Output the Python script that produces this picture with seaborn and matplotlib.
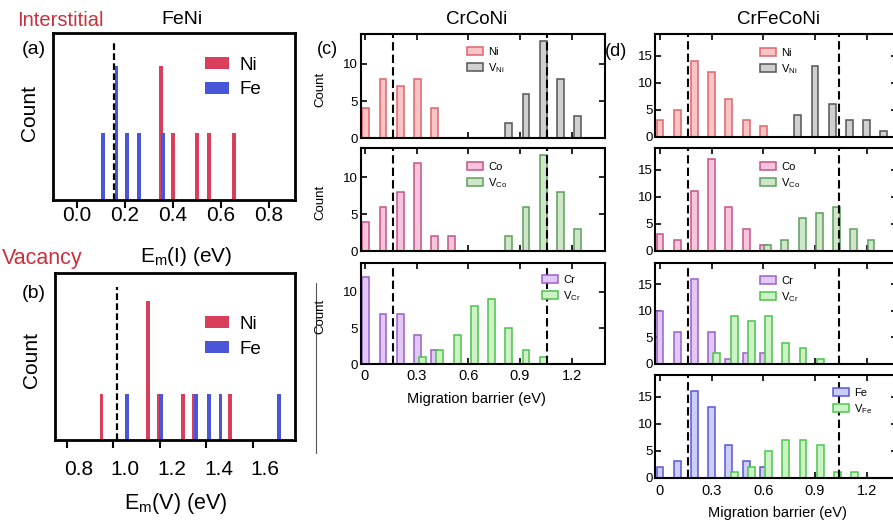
import numpy as np
import matplotlib.pyplot as plt
import seaborn as sns
from matplotlib.lines import Line2D
from matplotlib.transforms import ScaledTranslation

# ---- (a) FeNi, interstitial migration barriers (eV) ----
int_ni_e = [0.35, 0.40, 0.50, 0.55, 0.655]
int_ni_n = [2, 1, 1, 1, 1]
int_fe_e = [0.11, 0.165, 0.21, 0.26, 0.36]
int_fe_n = [1, 2, 1, 1, 1]
int_ref = 0.155
int_ticks = [0.0, 0.2, 0.4, 0.6, 0.8]
int_ticklabels = ['0.0', '0.2', '0.4', '0.6', '0.8']

# ---- (b) FeNi, vacancy migration barriers (eV) ----
vac_ni_e = [0.95, 1.15, 1.195, 1.30, 1.345, 1.50]
vac_ni_n = [1, 3, 1, 1, 1, 1]
vac_fe_e = [1.06, 1.205, 1.355, 1.41, 1.46, 1.71]
vac_fe_n = [1, 1, 1, 1, 1, 1]
vac_ref = 1.017
vac_ticks = [0.8, 1.0, 1.2, 1.4, 1.6]
vac_ticklabels = ['0.8', '1.0', '1.2', '1.4', '1.6']

# ---- (c) CrCoNi ----
cc_ni_e = [0.005, 0.105, 0.205, 0.305, 0.405]
cc_ni_n = [4, 8, 7, 8, 4]
cc_vni_e = [0.835, 0.935, 1.035, 1.135, 1.235]
cc_vni_n = [2, 6, 13, 8, 3]
cc_co_e = [0.005, 0.105, 0.205, 0.305, 0.405, 0.505]
cc_co_n = [4, 6, 8, 12, 2, 2]
cc_vco_e = [0.835, 0.935, 1.035, 1.135, 1.235]
cc_vco_n = [2, 6, 13, 8, 3]
cc_cr_e = [0.005, 0.105, 0.205, 0.305, 0.405]
cc_cr_n = [12, 7, 7, 4, 2]
cc_vcr_e = [0.335, 0.435, 0.535, 0.635, 0.735, 0.835, 0.935, 1.035]
cc_vcr_n = [1, 2, 4, 8, 9, 5, 2, 1]
cc_refs = [0.165, 1.06]

# ---- (d) CrFeCoNi ----
hea_elem_e = [0.0, 0.1, 0.2, 0.3, 0.4, 0.5, 0.6]
hea_ni_n = [3, 5, 14, 12, 7, 3, 2]
hea_vni_e = [0.80, 0.90, 1.00, 1.10, 1.20, 1.30]
hea_vni_n = [4, 13, 6, 3, 3, 1]
hea_co_n = [3, 2, 11, 17, 8, 4, 1]
hea_vco_e = [0.625, 0.725, 0.825, 0.925, 1.025, 1.125, 1.225]
hea_vco_n = [1, 2, 6, 7, 8, 4, 2]
hea_cr_n = [10, 6, 16, 6, 1, 2, 2]
hea_vcr_e = [0.33, 0.43, 0.53, 0.63, 0.73, 0.83, 0.93]
hea_vcr_n = [2, 9, 8, 9, 4, 3, 1]
hea_fe_n = [2, 3, 16, 13, 6, 3, 2]
hea_vfe_e = [0.43, 0.53, 0.63, 0.73, 0.83, 0.93, 1.03, 1.13]
hea_vfe_n = [1, 2, 5, 7, 7, 6, 1, 1]
hea_refs = [0.165, 1.04]

mig_ticks = [0.0, 0.3, 0.6, 0.9, 1.2]
mig_ticklabels = ['0', '0.3', '0.6', '0.9', '1.2']

# colours (face, edge)
NI = ('#f9c4c6', '#e0646a')
VNI = ('#d0d0d0', '#555555')
CO = ('#f6c5dc', '#c4548a')
VCO = ('#cfe6c8', '#5e9e5e')
CR = ('#e2c9f5', '#9a60c8')
VCR = ('#cdf2c6', '#4cc24c')
FE = ('#cdcdf7', '#5858d8')
VFE = ('#cdf2c6', '#4cc84c')
RED = '#d93e5c'
BLUE = '#4a56d8'
TITLE_RED = '#c8313e'

sns.set_style('ticks', rc={'axes.edgecolor': 'black', 'xtick.color': 'black',
                           'ytick.color': 'black', 'text.color': 'black'})
plt.rcParams['font.family'] = ['Liberation Sans', 'DejaVu Sans']
plt.rcParams['mathtext.default'] = 'regular'

W, H = 893, 523
fig = plt.figure(figsize=(W / 100, H / 100), dpi=100)


def box(x0, y0, x1, y1):
    return fig.add_axes([x0 / W, 1 - y1 / H, (x1 - x0) / W, (y1 - y0) / H])


def ftext(x, y, s, **kw):
    kw.setdefault('ha', 'center')
    kw.setdefault('va', 'center')
    fig.text(x / W, 1 - y / H, s, **kw)


def bars(ax, e, n, w, **kw):
    gap = np.diff(np.sort(e)).min()
    sns.barplot(x=e, y=n, native_scale=True, orient='x', width=w / gap,
                errorbar=None, saturation=1, ax=ax, **kw)


def legend_at(ax, x, y, **kw):
    ax.legend(loc='upper left', bbox_to_anchor=(x / W, 1 - y / H),
              bbox_transform=fig.transFigure, frameon=False,
              borderpad=0, borderaxespad=0, **kw)


# ---------- (a) ----------
ax = box(53, 33, 295, 200)
bars(ax, int_ni_e, int_ni_n, 0.016, color=RED, linewidth=0, label='Ni')
bars(ax, int_fe_e, int_fe_n, 0.016, color=BLUE, linewidth=0, label='Fe')
ax.vlines(int_ref, 0, 2.35, colors='k', linestyles=(0, (3, 1.5)), linewidth=1.6)
ax.set_xlim(-0.1, 0.91)
ax.set_ylim(0, 2.5)
ax.set_xticks(int_ticks)
ax.set_xticklabels(int_ticklabels)
ax.set_yticks([])
ax.tick_params(axis='x', direction='out', length=6, width=1.5, labelsize=15, pad=-2)
ax.set_xlabel('')
ax.set_ylabel('')
for s in ax.spines.values():
    s.set_linewidth(2)
legend_at(ax, 205, 57, fontsize=13.5, handlelength=1.3, handleheight=0.6,
          handletextpad=0.55, labelspacing=0.4)

# ---------- (b) ----------
ax = box(55, 273, 295, 440)
bars(ax, vac_ni_e, vac_ni_n, 0.016, color=RED, linewidth=0, label='Ni')
bars(ax, vac_fe_e, vac_fe_n, 0.016, color=BLUE, linewidth=0, label='Fe')
ax.vlines(vac_ref, 0, 3.3, colors='k', linestyles=(0, (3, 1.5)), linewidth=1.6)
ax.set_xlim(0.75, 1.78)
ax.set_ylim(0, 3.6)
ax.set_xticks(vac_ticks)
ax.set_xticklabels(vac_ticklabels)
ax.set_yticks([])
ax.tick_params(axis='x', direction='out', length=6, width=1.5, labelsize=15, pad=8.3)
ax.set_xlabel('')
ax.set_ylabel('')
for s in ax.spines.values():
    s.set_linewidth(2)
for t in ax.get_xticklabels():
    t.set_transform(t.get_transform() + ScaledTranslation(0.12, 0, fig.dpi_scale_trans))
legend_at(ax, 205, 316, fontsize=13.5, handlelength=1.3, handleheight=0.6,
          handletextpad=0.55, labelspacing=0.4)

ftext(17, 20, 'Interstitial', ha='left', fontsize=14.5, color=TITLE_RED)
ftext(182, 20, 'FeNi', fontsize=14)
ftext(34, 50, '(a)', fontsize=14)
ftext(30, 113, 'Count', rotation=90, fontsize=15)
ftext(2, 258, 'Vacancy', ha='left', fontsize=15.5, color=TITLE_RED)
ftext(186, 256, 'E$_m$(I) (eV)', fontsize=15)
ftext(34, 293, '(b)', fontsize=14)
ftext(32, 360, 'Count', rotation=90, fontsize=15)
ftext(176, 503, 'E$_m$(V) (eV)', fontsize=15.5)

# ---------- (c) and (d) ----------
cc_rows = [
    ((34, 138.3), cc_ni_e, cc_ni_n, 'Ni', NI, cc_vni_e, cc_vni_n, 'V$_{Ni}$', VNI, (467, 47)),
    ((148, 251), cc_co_e, cc_co_n, 'Co', CO, cc_vco_e, cc_vco_n, 'V$_{Co}$', VCO, (467, 162)),
    ((263, 364.3), cc_cr_e, cc_cr_n, 'Cr', CR, cc_vcr_e, cc_vcr_n, 'V$_{Cr}$', VCR, (542, 275)),
]
hea_rows = [
    ((34, 136.7), hea_elem_e, hea_ni_n, 'Ni', NI, hea_vni_e, hea_vni_n, 'V$_{Ni}$', VNI, (760, 48)),
    ((148.3, 250.5), hea_elem_e, hea_co_n, 'Co', CO, hea_vco_e, hea_vco_n, 'V$_{Co}$', VCO, (760, 162)),
    ((263.3, 363.8), hea_elem_e, hea_cr_n, 'Cr', CR, hea_vcr_e, hea_vcr_n, 'V$_{Cr}$', VCR, (760, 276)),
    ((375, 477.5), hea_elem_e, hea_fe_n, 'Fe', FE, hea_vfe_e, hea_vfe_n, 'V$_{Fe}$', VFE, (833, 388)),
]

for rows, (x0, x1), xlim, ymax, yticks, refs, xpad, ypad in [
    (cc_rows, (361, 605), (-0.023, 1.394), 14, [0, 5, 10], cc_refs, 3.6, 2),
    (hea_rows, (655, 897), (-0.029, 1.376), 19, [0, 5, 10, 15], hea_refs, 4.7, 1.5),
]:
    for i, ((y0, y1), ee, en, el, ec, ve, vn, vl, vc, (lx, ly)) in enumerate(rows):
        ax = box(x0, y0, x1, y1)
        bars(ax, ee, en, 0.04, color=ec[0], edgecolor=ec[1], linewidth=1.1, label=el)
        bars(ax, ve, vn, 0.04, color=vc[0], edgecolor=vc[1], linewidth=1.1, label=vl)
        for r in refs:
            ax.axvline(r, color='k', linestyle=(0, (4, 2)), linewidth=1.5)
        ax.set_xlim(*xlim)
        ax.set_ylim(0, ymax)
        ax.set_xticks(mig_ticks)
        ax.set_xticklabels(mig_ticklabels)
        ax.set_yticks(yticks)
        ax.tick_params(direction='in', top=True, right=True, length=4, width=1.2)
        ax.tick_params(axis='x', labelsize=10.5, pad=xpad, labelbottom=(i == len(rows) - 1))
        ax.tick_params(axis='y', labelsize=9.5, pad=ypad)
        ax.set_xlabel('')
        ax.set_ylabel('')
        for s in ax.spines.values():
            s.set_linewidth(1.5)
        legend_at(ax, lx, ly, fontsize=8, handlelength=1.4, handleheight=0.75,
                  handletextpad=0.5, labelspacing=0.35)
        if rows is cc_rows:
            ftext(320, (y0 + y1) / 2 + 3, 'Count', rotation=90, fontsize=9.5)

ftext(477, 20, 'CrCoNi', fontsize=13.5)
ftext(778, 20, 'CrFeCoNi', fontsize=13.5)
ftext(327, 50, '(c)', fontsize=13)
ftext(616, 52, '(d)', fontsize=13)
ftext(476, 399, 'Migration barrier (eV)', fontsize=10.5)
ftext(777, 513, 'Migration barrier (eV)', fontsize=10.5)
fig.add_artist(Line2D([316 / W, 316 / W], [1 - 283 / H, 1 - 453 / H],
                      transform=fig.transFigure, color='#555555', linewidth=0.8))

fig.savefig('out.png', dpi=100)
